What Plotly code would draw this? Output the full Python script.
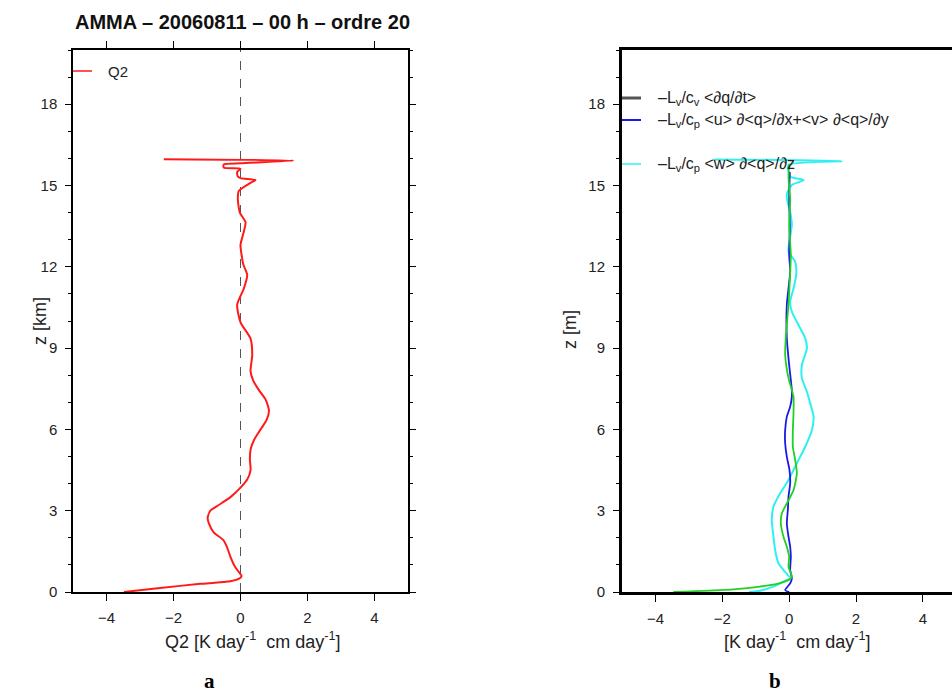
import plotly.graph_objects as go

# ---------------- data ----------------
# Panel a : Q2 profile
z_q2 = [0.0, 0.15, 0.3, 0.4, 0.53, 0.6, 0.9, 1.3, 1.65, 1.9, 2.2, 2.55, 2.75, 3.0, 3.2,
        3.5, 3.85, 4.15, 4.5, 4.9, 5.25, 5.6, 6.0, 6.35, 6.7, 7.1, 7.45, 7.8, 8.15, 8.75,
        9.35, 9.95, 10.6, 11.2, 11.7, 12.1, 12.3, 12.8, 13.3, 13.65, 14.0, 14.5, 14.8,
        15.1, 15.2, 15.27, 15.33, 15.5, 15.62, 15.66, 15.78, 15.82, 15.92, 15.97]
q2 = [-3.48, -2.4, -1.2, -0.3, 0.0, 0.03, -0.15, -0.3, -0.4, -0.5, -0.8, -0.95, -0.98, -0.9, -0.66,
      -0.3, 0.0, 0.2, 0.3, 0.28, 0.3, 0.4, 0.6, 0.78, 0.85, 0.75, 0.55, 0.38, 0.3, 0.35,
      0.3, 0.0, -0.1, 0.1, 0.2, 0.08, 0.05, 0.0, 0.1, 0.15, -0.02, -0.08, -0.05,
      0.3, 0.45, 0.0, -0.08, -0.1, 0.0, -0.5, -0.5, 0.0, 1.58, -2.29]

# Panel b : horizontal advection term (blue)
z_hadv = [0.0, 0.07, 0.32, 0.5, 0.81, 1.3, 1.67, 2.04, 2.53, 3.03, 3.52, 4.01, 4.5, 4.99,
          5.49, 5.98, 6.47, 6.84, 7.2, 7.45, 8.38, 9.36, 10.59, 11.2, 11.82, 12.44, 13.5,
          14.5, 15.5]
hadv = [0.0, -0.12, 0.03, 0.08, 0.03, 0.05, 0.03, -0.02, -0.07, -0.04, -0.02, 0.03, 0.01, -0.07,
        -0.12, -0.12, -0.07, 0.03, 0.08, 0.08, 0.0, -0.07, -0.07, -0.02, 0.03, 0.0, 0.02,
        0.0, 0.02]

# Panel b : total (green)
z_tot = [0.0, 0.1, 0.2, 0.33, 0.48, 0.57, 0.93, 1.3, 1.67, 2.04, 2.53, 2.9, 3.27, 3.76,
         4.38, 4.87, 5.36, 5.98, 6.59, 7.2, 7.45, 7.89, 8.75, 9.6, 10.59, 11.82, 12.44,
         13.5, 14.5, 15.3, 15.8]
tot = [-3.46, -1.67, -0.87, -0.27, 0.03, 0.08, -0.02, 0.0, -0.07, -0.17, -0.25, -0.22, -0.07, 0.13,
       0.23, 0.18, 0.11, 0.11, 0.13, 0.13, 0.08, -0.02, -0.12, -0.09, -0.02, 0.03, 0.05,
       0.0, 0.03, -0.02, 0.0]

# Panel b : vertical advection term (cyan)
z_vadv = [0.0, 0.05, 0.2, 0.44, 0.5, 0.81, 1.06, 1.55, 2.04, 2.66, 3.15, 3.64, 4.13, 4.75,
          5.36, 5.98, 6.47, 6.96, 7.39, 7.89, 8.38, 8.99, 9.36, 9.85, 10.34, 10.71, 11.2,
          11.7, 12.19, 12.56, 13.54, 14.03, 14.53, 14.77, 15.02, 15.2, 15.33, 15.76,
          15.9, 15.96]
vadv = [-1.2, -0.87, -0.48, -0.07, 0.03, -0.17, -0.32, -0.42, -0.47, -0.52, -0.47, -0.27, -0.02, 0.23,
        0.48, 0.68, 0.73, 0.63, 0.53, 0.38, 0.38, 0.53, 0.48, 0.28, 0.08, 0.03, 0.13,
        0.21, 0.18, -0.02, 0.08, 0.03, -0.07, -0.05, 0.08, 0.43, 0.03, -0.02,
        1.57, -2.26]

x_ticks = [-4, -2, 0, 2, 4]
z_ticks = [0, 3, 6, 9, 12, 15, 18]

title_text = "AMMA – 20060811 – 00 h – ordre 20"
legend_a = ["Q2"]
legend_b = ["–L<sub>v</sub>/c<sub>v</sub> &lt;∂q/∂t&gt;",
            "–L<sub>v</sub>/c<sub>p</sub> &lt;u&gt; ∂&lt;q&gt;/∂x+&lt;v&gt; ∂&lt;q&gt;/∂y",
            "–L<sub>v</sub>/c<sub>p</sub> &lt;w&gt; ∂&lt;q&gt;/∂z"]

# ---------------- helpers ----------------
W, H = 952, 693
def fx(p):
    return p / W
def fy(p):
    return 1 - p / H

FONT = "Liberation Sans, Arial, sans-serif"
RED = "#ff1a1a"
BLUE = "#1a1ae6"
GREEN = "#22d022"
CYAN = "#2ff0f0"
GREY = "#555555"
SM = 0.6

fig = go.Figure()
fig.add_trace(go.Scatter(x=q2, y=z_q2, mode="lines",
                         line=dict(color=RED, width=2, shape="spline", smoothing=SM),
                         xaxis="x", yaxis="y", showlegend=False))
fig.add_trace(go.Scatter(x=vadv, y=z_vadv, mode="lines",
                         line=dict(color=CYAN, width=2, shape="spline", smoothing=SM),
                         xaxis="x2", yaxis="y2", showlegend=False))
fig.add_trace(go.Scatter(x=hadv, y=z_hadv, mode="lines",
                         line=dict(color=BLUE, width=1.8, shape="spline", smoothing=SM),
                         xaxis="x2", yaxis="y2", showlegend=False))
fig.add_trace(go.Scatter(x=tot, y=z_tot, mode="lines",
                         line=dict(color=GREEN, width=1.8, shape="spline", smoothing=SM),
                         xaxis="x2", yaxis="y2", showlegend=False))

ydom = [fy(592), fy(50)]
tickfont = dict(family=FONT, size=15, color="#222")

common_x = dict(tickmode="array", tickvals=x_ticks, ticks="outside", ticklen=7,
                tickcolor="black", showgrid=False, zeroline=False, showline=True,
                linecolor="black", tickfont=tickfont, ticklabelstandoff=4,
                automargin=False)
common_y = dict(range=[0, 20], tickmode="array", tickvals=z_ticks, ticks="outside",
                ticklen=6, tickcolor="black", showgrid=False, zeroline=False,
                showline=True, linecolor="black", tickfont=tickfont,
                ticklabelstandoff=5, automargin=False,
                minor=dict(dtick=1, ticks="outside", ticklen=3, tickcolor="black"))

fig.update_layout(
    width=W, height=H,
    margin=dict(l=0, r=0, t=0, b=0, pad=0),
    paper_bgcolor="white", plot_bgcolor="white",
    xaxis=dict(domain=[fx(73), fx(408)], range=[-5, 5], anchor="y", mirror="ticks",
               linewidth=1.5, **common_x),
    yaxis=dict(domain=ydom, anchor="x", mirror="ticks", linewidth=1.5, **common_y),
    xaxis2=dict(domain=[fx(622), 1.0], range=[-5, 4.87], anchor="y2", mirror=True,
                linewidth=3, **common_x),
    yaxis2=dict(domain=ydom, anchor="x2", mirror=False, linewidth=3, **common_y),
)

# zero line on panel a
fig.add_shape(type="line", xref="x", yref="paper", x0=0, x1=0, y0=ydom[0], y1=ydom[1],
              line=dict(color=GREY, width=1, dash="dash"), layer="below")


def note(text, x, y, size, family=FONT, color="#222", xanchor="center", angle=0):
    return dict(text=text, x=fx(x), y=fy(y), xref="paper", yref="paper",
                xanchor=xanchor, yanchor="middle", showarrow=False, textangle=angle,
                font=dict(family=family, size=size, color=color))


SERIF = "Liberation Serif, Times New Roman, serif"
ann = [
    note("<b>" + title_text + "</b>", 242, 22, 20, color="#111"),
    note("z [km]", 40, 321, 18, angle=-90),
    note("z [m]", 570, 330, 18, angle=-90),
    note("Q2 [K day<sup>-1</sup>  cm day<sup>-1</sup>]", 253, 640, 18),
    note("[K day<sup>-1</sup>  cm day<sup>-1</sup>]", 797, 640, 18),
    note("<b>a</b>", 209, 681, 21, family=SERIF, color="black"),
    note("<b>b</b>", 775, 681, 21, family=SERIF, color="black"),
    note(legend_a[0], 106, 71, 15, xanchor="left"),
]
fig.add_shape(type="line", xref="paper", yref="paper", x0=fx(73), x1=fx(92),
              y0=fy(71), y1=fy(71), line=dict(color=RED, width=1.5))

leg_y = [98, 120, 164]
leg_c = ["#555555", BLUE, CYAN]
leg_w = [3, 2, 1.5]
for t, yy, c, w in zip(legend_b, leg_y, leg_c, leg_w):
    ann.append(note(t, 656, yy, 16, xanchor="left"))
    fig.add_shape(type="line", xref="paper", yref="paper", x0=fx(622), x1=fx(641),
                  y0=fy(yy), y1=fy(yy), line=dict(color=c, width=w))

fig.update_layout(annotations=ann)
fig.write_html("out.html", config={"displayModeBar": False},
               post_script="document.body.style.margin='0px';document.body.style.padding='0px';")
